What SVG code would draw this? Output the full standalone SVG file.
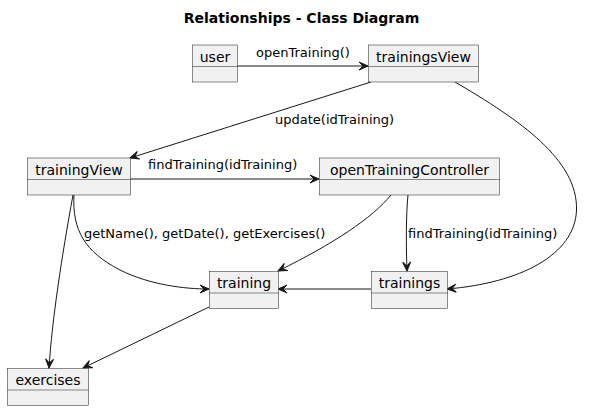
<svg xmlns="http://www.w3.org/2000/svg" width="616" height="410" viewBox="0 0 616 410">
<style>
.box{fill:#F1F1F1;stroke:#181818;stroke-width:0.5}
.name{font-family:"DejaVu Sans",sans-serif;font-size:14px;fill:#000;text-anchor:middle}
.lbl{font-family:"DejaVu Sans",sans-serif;font-size:13px;fill:#000}
.title{font-family:"DejaVu Sans",sans-serif;font-size:14px;font-weight:bold;fill:#000;text-anchor:middle}
.edge{fill:none;stroke:#181818;stroke-width:1;marker-end:url(#arr)}
</style>
<defs>
<marker id="arr" viewBox="-10 -5 11 10" refX="0" refY="0" markerWidth="11" markerHeight="10" markerUnits="userSpaceOnUse" orient="auto">
<path d="M0,0 L-9,-4 L-5,0 L-9,4 Z" fill="#181818" stroke="#181818" stroke-width="1" stroke-linejoin="miter"/>
</marker>
</defs>
<rect width="616" height="410" fill="#FFFFFF"/>
<text class="title" x="301.5" y="23">Relationships - Class Diagram</text>

<g id="connectors">
<path class="edge" d="M237,66 L368,66"/>
<path class="edge" d="M371,82 L130,158"/>
<path class="edge" d="M455,82 C520,120 578,160 576.5,210 C575,255 520,283 447,289"/>
<path class="edge" d="M130,179 L319,179"/>
<path class="edge" d="M74,195 C72,230 85,252 120,270 C150,285 185,289 209,289"/>
<path class="edge" d="M73,195 C62,255 52,320 49,368"/>
<path class="edge" d="M391,195 C372,218 335,243 278,271"/>
<path class="edge" d="M408,195 C406,215 406,245 407,271"/>
<path class="edge" d="M371,289 L278,289"/>
<path class="edge" d="M209,307 L83,368"/>
<text class="lbl" x="256" y="57">openTraining()</text>
<text class="lbl" x="275" y="124">update(idTraining)</text>
<text class="lbl" x="148" y="169">findTraining(idTraining)</text>
<text class="lbl" x="84" y="238">getName(), getDate(), getExercises()</text>
<text class="lbl" x="408" y="238">findTraining(idTraining)</text>
</g>

<g id="user">
<rect class="box" x="192.5" y="45" width="45" height="37"/>
<line class="box" x1="192.5" y1="66.5" x2="237.5" y2="66.5"/>
<text class="name" x="215" y="61.5">user</text>
</g>
<g id="trainingsView">
<rect class="box" x="368.5" y="45" width="110" height="37"/>
<line class="box" x1="368.5" y1="66.5" x2="478.5" y2="66.5"/>
<text class="name" x="423.5" y="61.5">trainingsView</text>
</g>
<g id="trainingView">
<rect class="box" x="27.5" y="158" width="103" height="37"/>
<line class="box" x1="27.5" y1="179.5" x2="130.5" y2="179.5"/>
<text class="name" x="79" y="174.5">trainingView</text>
</g>
<g id="openTrainingController">
<rect class="box" x="319.5" y="158" width="180" height="37"/>
<line class="box" x1="319.5" y1="179.5" x2="499.5" y2="179.5"/>
<text class="name" x="409.5" y="174.5">openTrainingController</text>
</g>
<g id="training">
<rect class="box" x="209.5" y="271.5" width="69" height="37"/>
<line class="box" x1="209.5" y1="293" x2="278.5" y2="293"/>
<text class="name" x="244" y="287.5">training</text>
</g>
<g id="trainings">
<rect class="box" x="371.5" y="271.5" width="76" height="37"/>
<line class="box" x1="371.5" y1="293" x2="447.5" y2="293"/>
<text class="name" x="409.5" y="287.5">trainings</text>
</g>
<g id="exercises">
<rect class="box" x="7.5" y="368.5" width="81" height="37"/>
<line class="box" x1="7.5" y1="390" x2="88.5" y2="390"/>
<text class="name" x="48" y="384.5">exercises</text>
</g>
</svg>
